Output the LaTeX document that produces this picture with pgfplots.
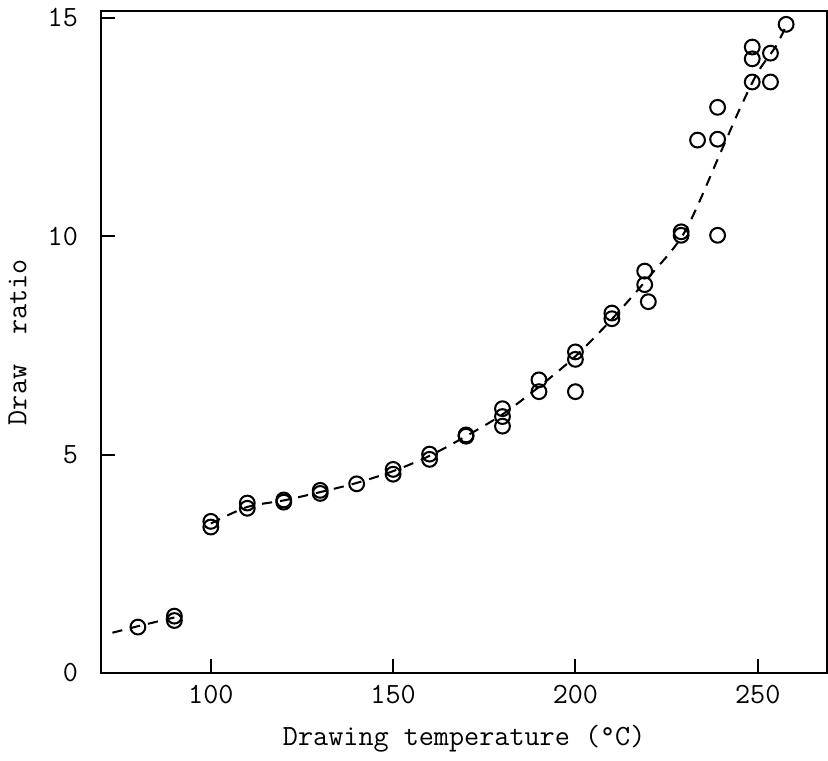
\documentclass[border=0pt]{standalone}
\usepackage{fontspec}
\usepackage{pgfplots}
\pgfplotsset{compat=1.18}
\begin{document}
\begin{tikzpicture}
\begin{axis}[
  scale only axis,
  width=10.0cm, height=9.12cm,
  xmin=70, xmax=269, ymin=0, ymax=15.15,
  xtick={100,150,200,250}, ytick={0,5,10,15},
  tick align=inside, xtick pos=bottom, ytick pos=left,
  major tick length=0.19cm,
  axis line style={line width=0.8pt},
  every tick/.style={line width=0.8pt, black},
  /pgf/number format/assume math mode=true,
  tick label style={font=\ttfamily\fontsize{11.5}{13}\selectfont},
  xticklabel style={yshift=-0.05cm},
  yticklabel style={xshift=-0.2cm},
  label style={font=\ttfamily\fontsize{11.5}{13}\selectfont},
  xlabel={Drawing temperature (°C)},
  ylabel={Draw\ \ ratio},
  xlabel style={yshift=-0.05cm},
  ylabel style={yshift=0.05cm},
  clip=false,
]
\addplot[black, line width=0.8pt, dash pattern=on 4pt off 3.2pt] coordinates {
 (73,0.92) (80,1.07) (90,1.27)
};
\addplot[black, line width=0.8pt, dash pattern=on 4pt off 3.2pt, smooth] coordinates {
 (100,3.42) (110,3.8) (120,3.95) (130,4.14) (140,4.35) (150,4.62) (160,4.97)
 (170,5.42) (180,5.92) (190,6.55) (200,7.25) (210,8.1) (220,9.05) (230,10.1)
 (240,11.95) (245,12.9) (250,13.75) (255,14.35) (258,14.85)
};
\addplot[only marks, mark=o, mark size=2.9pt, mark options={fill=white, line width=0.8pt}, black] coordinates {
 (80,1.05)
 (90,1.3) (90,1.2)
 (100,3.47) (100,3.34)
 (110,3.89) (110,3.77)
 (120,3.96) (120,3.91)
 (130,4.18) (130,4.11)
 (140,4.33)
 (150,4.66) (150,4.55)
 (160,5.01) (160,4.89)
 (170,5.45) (170,5.42)
 (180,6.05) (180,5.87) (180,5.65)
 (190,6.71) (190,6.44)
 (200,7.35) (200,7.18) (200,6.44)
 (210,8.24) (210,8.11)
 (219,9.2) (219,8.89) (220,8.5)
 (229,10.1) (229,10.02)
 (233.5,12.2)
 (239,12.95) (239,12.22) (239,10.02)
 (248.5,14.33) (248.5,14.06) (248.5,13.53)
 (253.5,14.19) (253.5,13.53)
 (257.8,14.85)
};
\end{axis}
\end{tikzpicture}
\end{document}
